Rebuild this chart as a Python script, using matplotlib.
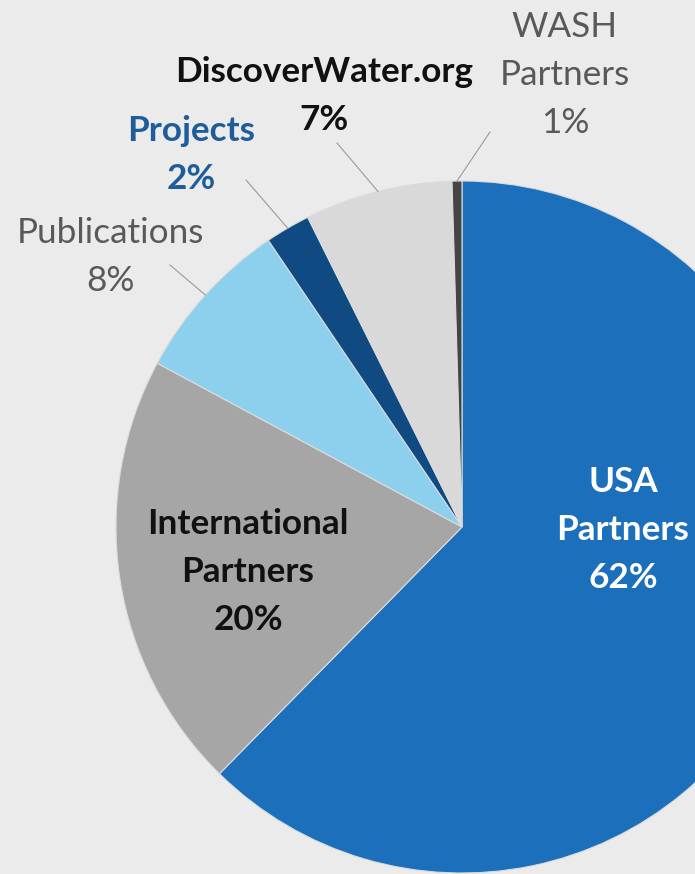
import matplotlib
matplotlib.use("Agg")
import matplotlib.pyplot as plt
import numpy as np

# ---- data ----
categories = ["USA\nPartners", "International\nPartners", "Publications", "Projects",
              "DiscoverWater.org", "WASH\nPartners"]
values = [62.4, 20.5, 7.7, 2.1, 6.9, 0.46]
pct_labels = ["62%", "20%", "8%", "2%", "7%", "1%"]

# ---- style ----
colors = ["#1c6fba", "#a6a6a6", "#8dd0ee", "#0f4b82", "#d9d9d9", "#444444"]
text_colors = ["white", "#111111", "#595959", "#1f5c9a", "#111111", "#595959"]
weights = ["bold", "bold", "normal", "bold", "bold", "normal"]
# label centers in image pixel coords (x, y)
label_pos = [(623, 530), (248, 572), (110, 257), (191, 155), (324, 96), (565, 75)]
# leader line outer end (image coords), None for inside labels
leader_out = [None, None, (170, 265), (246, 180), (337, 143), (490, 132)]
line_step = 48  # px between label lines

W, H = 695, 874
bg = "#ebebeb"
plt.rcParams['font.family'] = ['Lato', 'DejaVu Sans']

fig = plt.figure(figsize=(W / 100, H / 100), dpi=100, facecolor=bg)
ax = fig.add_axes([0, 0, 1, 1])
ax.set_facecolor(bg)

cx, cy, R = 462, H - 527, 346
wedges, _ = ax.pie(values, colors=colors, startangle=90, counterclock=False,
                   center=(cx, cy), radius=R, frame=True,
                   wedgeprops=dict(edgecolor="#dcdcdc", linewidth=0.8))
ax.set_xlim(0, W)
ax.set_ylim(0, H)
ax.set_aspect('equal')
ax.axis('off')

for i, w in enumerate(wedges):
    lines = categories[i].split("\n") + [pct_labels[i]]
    n = len(lines)
    x, y = label_pos[i]
    for k, ln in enumerate(lines):
        yy = y + (k - (n - 1) / 2) * line_step
        ax.text(x, H - yy, ln, ha='center', va='center', fontsize=25.3,
                fontweight=weights[i], color=text_colors[i])
    if leader_out[i] is not None:
        mid = np.deg2rad((w.theta1 + w.theta2) / 2)
        ex, ey = cx + R * np.cos(mid), cy + R * np.sin(mid)
        ox, oy = leader_out[i]
        ax.plot([ox, ex], [H - oy, ey], color="#9a9a9a", lw=0.8)

fig.savefig("out.png", dpi=100, facecolor=bg)
